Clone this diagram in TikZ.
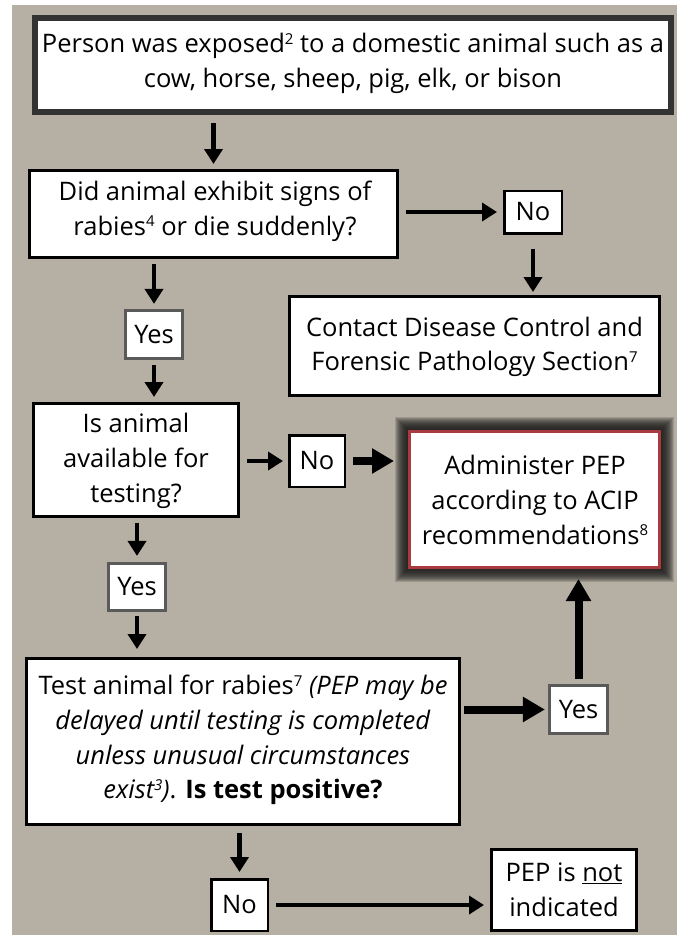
\documentclass[tikz,border=0pt]{standalone}
\usepackage{fontspec}
\setmainfont{Open Sans}
\usetikzlibrary{arrows.meta,backgrounds,calc}
\definecolor{bgtan}{RGB}{182,175,163}
\definecolor{darkborder}{RGB}{51,51,51}
\definecolor{yesgray}{RGB}{90,90,90}
\definecolor{adminred}{RGB}{168,58,64}
\definecolor{glowcol}{RGB}{30,30,28}
\newcommand\sups[1]{\raisebox{0.33em}{\fontsize{15}{15}\selectfont #1}}
\tikzset{
  bx/.style={rectangle, draw=black, fill=white, line width=3pt, inner sep=0pt},
  topbx/.style={rectangle, draw=darkborder, fill=white, line width=6pt, inner sep=0pt},
  adminbx/.style={rectangle, draw=adminred, fill=white, line width=3pt, inner sep=0pt},
  lbl/.style={align=center, inner sep=0pt, font=\fontsize{25.5}{34.7}\selectfont},
  nobx/.style={rectangle, draw=black, fill=white, line width=2.5pt, inner sep=0pt, font=\fontsize{25.5}{34.7}\selectfont},
  yesbx/.style={rectangle, draw=yesgray, fill=white, line width=2.7pt, inner sep=0pt, font=\fontsize{25.5}{34.7}\selectfont},
  arrM/.style={line width=4.5pt, -{Triangle[length=15pt,width=18pt]}},
  arrL/.style={line width=8pt, -{Triangle[length=22pt,width=24pt]}},
}
\begin{document}
\begin{tikzpicture}[x=1pt,y=-1pt]
\useasboundingbox (0,0) rectangle (677,935);

% boxes
\node[topbx, minimum width=636pt, minimum height=94pt] (top) at (353,65) {};
\node[lbl] (topt) at (353,63.5) {Person was exposed\sups{2} to a domestic animal such as a\\cow, horse, sheep, pig, elk, or bison};

\node[bx, minimum width=368pt, minimum height=87pt] (q1) at (213.5,214) {};
\node[lbl] (q1t) at (215,211) {Did animal exhibit signs of\\rabies\sups{4} or die suddenly?};

\node[nobx, minimum width=57.5pt, minimum height=42.5pt] (no1) at (533,212) {No};

\node[bx, minimum width=370pt, minimum height=99pt] (contact) at (474.5,346) {};
\node[lbl] (contactt) at (474.5,347) {Contact Disease Control and\\Forensic Pathology Section\sups{7}};

\node[yesbx, minimum width=57.5pt, minimum height=48.5pt] (yes1) at (154,334.5) {Yes};

\node[bx, minimum width=205pt, minimum height=113pt] (avail) at (136,460) {};
\node[lbl] (availt) at (136,461) {Is animal\\available for\\testing?};

\node[nobx, minimum width=55.5pt, minimum height=51.5pt] (no2) at (317,461) {No};

\node[adminbx, minimum width=250pt, minimum height=136pt] (admin) at (534.5,499.5) {};
\node[lbl] (admint) at (535,500) {Administer PEP\\according to ACIP\\recommendations\sups{8}};

\node[yesbx, minimum width=57.5pt, minimum height=47.5pt] (yes2) at (137,587) {Yes};

\node[bx, minimum width=433pt, minimum height=166pt] (test) at (243,741.5) {};
\node[lbl] (testt) at (243,740) {Test animal for rabies\sups{7} \textit{(PEP may be}\\\textit{delayed until testing is completed}\\\textit{unless unusual circumstances}\\\textit{exist\sups{3})}. \textbf{Is test positive?}};

\node[yesbx, minimum width=58.5pt, minimum height=48.5pt] (yes3) at (578.5,709.5) {Yes};

\node[nobx, minimum width=56.5pt, minimum height=51.5pt] (no3) at (239.5,905) {No};

\node[bx, minimum width=145pt, minimum height=81pt] (pep) at (564,890) {};
\node[lbl] (pept) at (564,890) {PEP is \underline{not}\\indicated};

% connectors
\draw[arrM, shorten <=8pt, shorten >=5pt] (q1.north |- top.south) -- (q1.north);
\draw[arrM, shorten <=7pt, shorten >=6pt] (q1.east |- no1.west) -- (no1.west);
\draw[arrM, shorten <=14pt, shorten >=3pt] (no1.south) -- (no1.south |- contact.north);
\draw[arrM, shorten <=5pt, shorten >=5pt] (yes1.north |- q1.south) -- (yes1.north);
\draw[arrM, shorten <=5pt, shorten >=5pt] (yes1.south) -- (yes1.south |- avail.north);
\draw[arrM, shorten <=7pt, shorten >=5pt] (avail.east |- no2.west) -- (no2.west);
\draw[arrL, shorten <=7pt, shorten >=14pt] (no2.east) -- (admin.west |- no2.east);
\draw[arrM, shorten <=5pt, shorten >=6pt] (yes2.north |- avail.south) -- (yes2.north);
\draw[arrM, shorten <=4pt, shorten >=8pt] (yes2.south) -- (yes2.south |- test.north);
\draw[arrL, shorten <=3pt, shorten >=3pt] (test.east |- yes3.west) -- (yes3.west);
\draw[arrL, shorten <=5pt, shorten >=10pt] (yes3.north) -- (yes3.north |- admin.south);
\draw[arrM, shorten <=7pt, shorten >=6pt] (no3.north |- test.south) -- (no3.north);
\draw[arrM, shorten <=7pt, shorten >=6pt] (no3.east) -- (pep.west |- no3.east);

% background and glow
\begin{scope}[on background layer]
\fill[white] (0,0) rectangle (677,935);
\fill[bgtan] (12,5) rectangle (677,935);
\foreach \d in {1,...,13} {
  \fill[glowcol, opacity=0.17] ($(admin.south west)+(-\d,\d)$) rectangle ($(admin.north east)+(\d,-\d)$);
}
\end{scope}
\end{tikzpicture}
\end{document}
